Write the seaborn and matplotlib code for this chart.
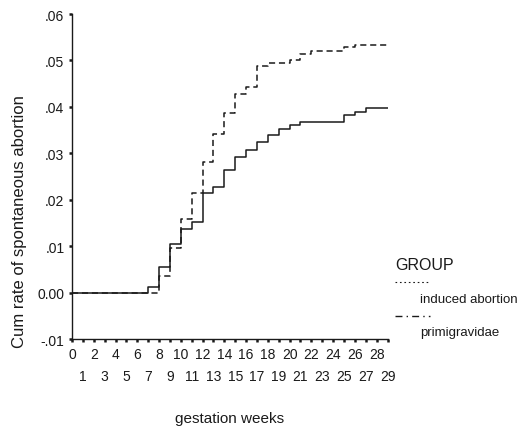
import numpy as np
import pandas as pd
import matplotlib
matplotlib.use("Agg")
import matplotlib.pyplot as plt
from matplotlib.lines import Line2D
from matplotlib.ticker import FixedLocator, FixedFormatter
import seaborn as sns

weeks = list(range(0, 30))
induced_abortion = [0, 0, 0, 0, 0, 0, 0, 0, .0035, .0095, .0159, .0215, .0281, .0341,
                    .0387, .0428, .0442, .0487, .0495, .0495, .0502, .0514, .0521,
                    .0521, .0521, .0528, .0534, .0534, .0534, .0534]
primigravidae = [0, 0, 0, 0, 0, 0, 0, .0012, .0055, .0104, .0138, .0153, .0215, .0228,
                 .0263, .0291, .0307, .0325, .0339, .0353, .0361, .0368, .0368,
                 .0368, .0368, .0382, .0389, .0397, .0397, .0397]
groups = ["induced abortion", "primigravidae"]
y_ticks = [-.01, 0, .01, .02, .03, .04, .05, .06]
y_labels = ["-.01", "0.00", ".01", ".02", ".03", ".04", ".05", ".06"]

df = pd.DataFrame({
    "week": weeks + weeks,
    "rate": induced_abortion + primigravidae,
    "GROUP": [groups[0]] * len(weeks) + [groups[1]] * len(weeks),
})

sns.set_theme(style="white")
plt.rcParams["font.family"] = ["Liberation Sans", "DejaVu Sans"]

fig = plt.figure(figsize=(5.2, 4.27), dpi=100)
ax = fig.add_axes([0.1385, 0.2037, 0.6067, 0.7611])

sns.lineplot(data=df, x="week", y="rate", style="GROUP",
             dashes={groups[0]: (4, 2.5), groups[1]: ""},
             color="#1a1a1a", linewidth=1.1, estimator=None,
             drawstyle="steps-post", legend=False, ax=ax)

ax.set_xlim(0, 29)
ax.set_ylim(-.01, .06)
ax.set_yticks(y_ticks)
ax.set_yticklabels(y_labels)

ax.xaxis.set_major_locator(FixedLocator([w for w in weeks if w % 2 == 0]))
ax.xaxis.set_major_formatter(FixedFormatter([str(w) for w in weeks if w % 2 == 0]))
ax.xaxis.set_minor_locator(FixedLocator([w for w in weeks if w % 2 == 1]))
ax.xaxis.set_minor_formatter(FixedFormatter([str(w) for w in weeks if w % 2 == 1]))

for s in ["top", "right"]:
    ax.spines[s].set_visible(False)
for s in ["left", "bottom"]:
    ax.spines[s].set_color("#1a1a1a")
    ax.spines[s].set_linewidth(1.0)

ax.tick_params(axis="x", which="major", direction="out", length=2.5, width=1.8,
               color="#1a1a1a", labelsize=10, pad=3, labelcolor="#1a1a1a",
               bottom=True)
ax.tick_params(axis="x", which="minor", direction="out", length=2.5, width=1.8,
               color="#1a1a1a", labelsize=10, pad=19, labelcolor="#1a1a1a",
               bottom=True)
ax.tick_params(axis="y", direction="out", length=2.5, width=1.8, color="#1a1a1a",
               labelsize=10, pad=3, labelcolor="#1a1a1a", left=True)

ax.set_xlabel("gestation weeks", fontsize=11, labelpad=20, color="#1a1a1a")
ax.set_ylabel("Cum rate of spontaneous abortion", fontsize=12, color="#1a1a1a")
ax.yaxis.set_label_coords(-0.143, 0.366)

# legend (SPSS style: line above label)
fig.text(0.760, 0.379, "GROUP", fontsize=11.5, va="center", ha="left", color="#1a1a1a")
fig.add_artist(Line2D([0.760, 0.826], [0.337, 0.337], transform=fig.transFigure,
                      color="#1a1a1a", linewidth=0.8, linestyle=(0, (1.5, 2.5))))
fig.text(0.808, 0.297, groups[0], fontsize=9.5, va="center", ha="left", color="#1a1a1a")
fig.add_artist(Line2D([0.760, 0.826], [0.258, 0.258], transform=fig.transFigure,
                      color="#1a1a1a", linewidth=1.0, linestyle=(0, (5, 3, 1, 3))))
fig.text(0.808, 0.220, groups[1], fontsize=9.5, va="center", ha="left", color="#1a1a1a")

fig.savefig("out.png", dpi=100)
